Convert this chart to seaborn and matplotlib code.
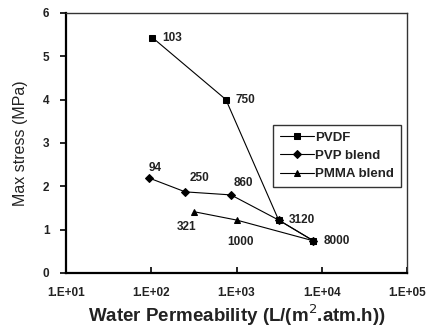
import matplotlib
matplotlib.use("Agg")
import matplotlib.pyplot as plt
import seaborn as sns
import pandas as pd
import numpy as np

# Data
pvdf_perm = [103, 750, 3120, 8000]
pvdf_stress = [5.43, 4.0, 1.22, 0.74]
pvdf_labels = ["103", "750", "3120", "8000"]

pvp_perm = [94, 250, 860, 3120, 8000]
pvp_stress = [2.19, 1.87, 1.80, 1.22, 0.74]
pvp_labels = ["94", "250", "860"]

pmma_perm = [321, 1000, 8000]
pmma_stress = [1.41, 1.22, 0.74]
pmma_labels = ["321", "1000"]

series_names = ["PVDF", "PVP blend", "PMMA blend"]
xtick_vals = [1e1, 1e2, 1e3, 1e4, 1e5]
xtick_labels = ["1.E+01", "1.E+02", "1.E+03", "1.E+04", "1.E+05"]
ytick_vals = [0, 1, 2, 3, 4, 5, 6]

df = pd.concat([
    pd.DataFrame({"perm": pvdf_perm, "stress": pvdf_stress, "series": series_names[0]}),
    pd.DataFrame({"perm": pvp_perm, "stress": pvp_stress, "series": series_names[1]}),
    pd.DataFrame({"perm": pmma_perm, "stress": pmma_stress, "series": series_names[2]}),
], ignore_index=True)

sns.set_theme(style="white")
plt.rcParams["font.family"] = ["Liberation Sans", "DejaVu Sans"]

fig = plt.figure(figsize=(4.32, 3.30), dpi=100)
ax = fig.add_axes([0.153, 0.173, 0.789, 0.788])

sns.lineplot(data=df, x="perm", y="stress", hue="series", style="series",
             markers={"PVDF": "s", "PVP blend": "D", "PMMA blend": "^"},
             dashes=False, palette=["black", "black", "black"],
             estimator=None, sort=False, linewidth=0.8, markersize=4.5,
             markeredgecolor="black", ax=ax)

ax.set_xscale("log")
ax.set_xlim(1e1, 1e5)
ax.set_ylim(0, 6)
ax.set_xticks(xtick_vals)
ax.set_xticklabels(xtick_labels, fontsize=8.5, fontweight="bold", color="#222222")
ax.xaxis.set_minor_locator(matplotlib.ticker.NullLocator())
ax.set_yticks(ytick_vals)
ax.set_yticklabels([str(v) for v in ytick_vals], fontsize=8.5, fontweight="bold", color="#222222")

ax.tick_params(axis="x", direction="in", length=4, width=1.2, color="black", pad=10, bottom=True)
ax.tick_params(axis="y", direction="out", length=4, width=1.2, color="black", pad=8, left=True)

for side in ["left", "bottom"]:
    ax.spines[side].set_color("black")
    ax.spines[side].set_linewidth(1.6)
for side in ["top", "right"]:
    ax.spines[side].set_color("#333333")
    ax.spines[side].set_linewidth(1.0)

ax.set_xlabel("Water Permeability (L/(m$^2$.atm.h))", fontsize=13.5, fontweight="bold",
              color="#222222", labelpad=3)
ax.set_ylabel("Max stress (MPa)", fontsize=11.5, color="#222222")
ax.yaxis.set_label_coords(-0.112, 0.5)

ann_kw = dict(fontsize=8.5, fontweight="bold", color="#222222", textcoords="offset pixels")
# PVDF labels to the right
for x, y, t in zip(pvdf_perm, pvdf_stress, pvdf_labels):
    ax.annotate(t, (x, y), xytext=(10, 0), va="center", ha="left", **ann_kw)
# PVP labels above
offsets_pvp = [(0, 10), (4, 14), (3, 12)]
for x, y, t, off in zip(pvp_perm, pvp_stress, pvp_labels, offsets_pvp):
    ax.annotate(t, (x, y), xytext=off, va="center", ha="left", **ann_kw)
# PMMA labels below
offsets_pmma = [(-8, -15), (4, -22)]
for x, y, t, off in zip(pmma_perm, pmma_stress, pmma_labels, offsets_pmma):
    ax.annotate(t, (x, y), xytext=off, va="center", ha="center", **ann_kw)

leg = ax.legend(loc="upper left", bbox_to_anchor=(0.607, 0.569), borderaxespad=0,
                frameon=True, fancybox=False, edgecolor="black", fontsize=9.5,
                handlelength=2.6, borderpad=0.5, labelspacing=0.45, handletextpad=0.1)
leg.get_frame().set_linewidth(1.0)
for t in leg.get_texts():
    t.set_fontweight("bold")
    t.set_color("#222222")

fig.savefig("out.png", dpi=100)
